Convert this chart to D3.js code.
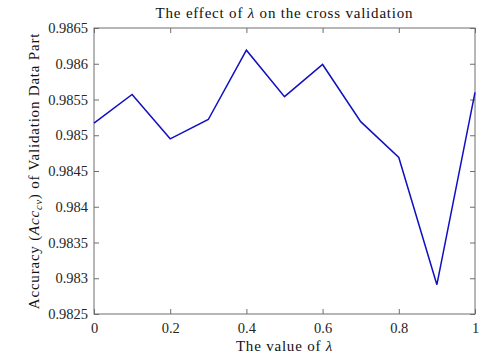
<!DOCTYPE html>
<html>
<head>
<meta charset="utf-8">
<script src="https://cdn.jsdelivr.net/npm/d3@7"></script>
<style>
  body { margin: 0; background: #fff; }
  svg { display: block; }
</style>
</head>
<body>
<div id="chart"></div>
<script>
// lambda vs cross-validation accuracy
const lambdas = [0, 0.1, 0.2, 0.3, 0.4, 0.5, 0.6, 0.7, 0.8, 0.9, 1.0];
const accuracy = [0.98517, 0.98557, 0.98495, 0.98522, 0.98619, 0.98554, 0.98599, 0.98519, 0.98469, 0.98291, 0.98560];
const xTicks = [0, 0.2, 0.4, 0.6, 0.8, 1];
const yTicks = [0.9825, 0.983, 0.9835, 0.984, 0.9845, 0.985, 0.9855, 0.986, 0.9865];

const W = 499, H = 357;
const m = { left: 94, right: 24, top: 28, bottom: 43 };
const axisColor = "#6e6e6e";
const FONT = "'Liberation Serif', serif";
const spacing = "0.8px";

const svg = d3.select("#chart").append("svg").attr("width", W).attr("height", H)
  .style("font-family", FONT);

const x = d3.scaleLinear().domain([0, 1]).range([m.left, W - m.right]);
const y = d3.scaleLinear().domain([0.9825, 0.9865]).range([H - m.bottom, m.top]);

// box ticks inward on all sides
const tk = 5;
svg.append("g").attr("transform", `translate(0,${H - m.bottom})`)
  .call(d3.axisBottom(x).tickValues(xTicks).tickSize(-tk).tickPadding(9).tickFormat(d3.format("")))
  .call((g) => g.select(".domain").remove());
svg.append("g").attr("transform", `translate(0,${m.top})`)
  .call(d3.axisTop(x).tickValues(xTicks).tickSize(-tk).tickFormat(""))
  .call((g) => g.select(".domain").remove());
svg.append("g").attr("transform", `translate(${m.left},0)`)
  .call(d3.axisLeft(y).tickValues(yTicks).tickSize(-tk).tickPadding(6).tickFormat(d3.format("")))
  .call((g) => g.select(".domain").remove());
svg.append("g").attr("transform", `translate(${W - m.right},0)`)
  .call(d3.axisRight(y).tickValues(yTicks).tickSize(-tk).tickFormat(""))
  .call((g) => g.select(".domain").remove());

svg.selectAll("g").attr("font-family", null).attr("font-size", null);
svg.selectAll(".tick line").attr("stroke", axisColor);
svg.selectAll(".tick text").attr("fill", "#262626")
  .style("font-family", FONT).style("font-size", "14.5px");

svg.append("rect")
  .attr("x", m.left).attr("y", m.top)
  .attr("width", W - m.left - m.right).attr("height", H - m.top - m.bottom)
  .attr("fill", "none").attr("stroke", axisColor).attr("stroke-width", 1);

svg.append("path")
  .datum(lambdas.map((l, i) => [l, accuracy[i]]))
  .attr("fill", "none")
  .attr("stroke", "#1010c0")
  .attr("stroke-width", 1.5)
  .attr("d", d3.line().x((d) => x(d[0])).y((d) => y(d[1])));

function label(sel) {
  return sel.style("font-family", FONT).style("font-size", "15px")
    .style("letter-spacing", spacing).attr("fill", "#111");
}

// titles
const cx = (m.left + W - m.right) / 2;
const title = svg.append("text").attr("x", cx).attr("y", 18).attr("text-anchor", "middle").call(label);
title.append("tspan").text("The effect of ");
title.append("tspan").attr("font-style", "italic").text("λ");
title.append("tspan").text(" on the cross validation");

const xl = svg.append("text").attr("x", cx).attr("y", 351).attr("text-anchor", "middle").call(label);
xl.append("tspan").text("The value of ");
xl.append("tspan").attr("font-style", "italic").text("λ");

const cy = (m.top + H - m.bottom) / 2;
const yl = svg.append("text").attr("transform", `translate(39,${cy}) rotate(-90)`)
  .attr("text-anchor", "middle").call(label);
yl.append("tspan").text("Accuracy (");
yl.append("tspan").attr("font-style", "italic").text("Acc");
yl.append("tspan").attr("font-style", "italic").style("font-size", "10.5px").attr("dy", 3).text("cv");
yl.append("tspan").attr("dy", -3).text(") of Validation Data Part");
</script>
</body>
</html>
